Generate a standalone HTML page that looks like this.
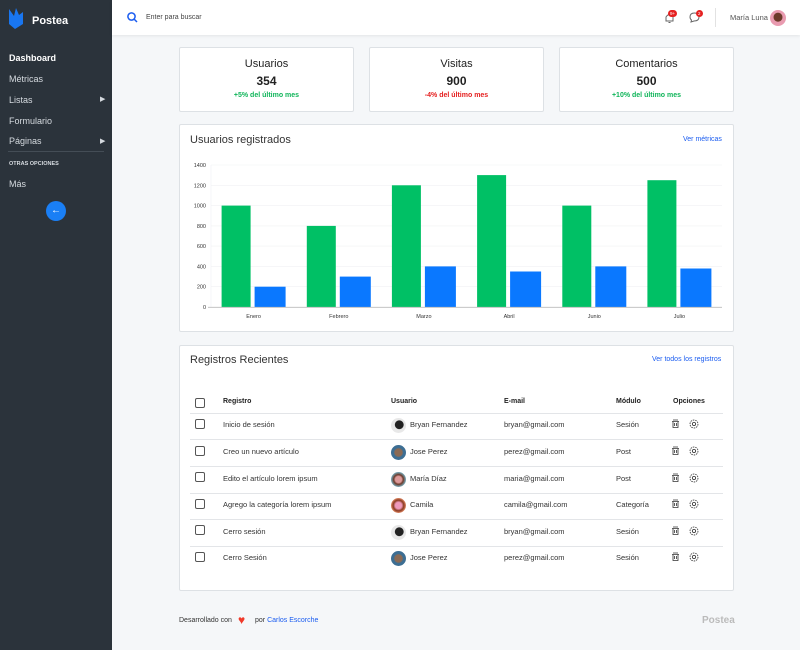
<!DOCTYPE html>
<html><head><meta charset="utf-8"><style>
*{box-sizing:border-box;margin:0;padding:0}
body{width:800px;height:650px;overflow:hidden;background:#f5f7f9;font-family:"Liberation Sans",Arial,sans-serif;position:relative;color:#222}
.a{position:absolute;white-space:nowrap}
#side{position:absolute;left:0;top:0;width:112px;height:650px;background:#2b333b}
#side .a{color:#d6dbe0;font-size:9px}
#head{position:absolute;left:112px;top:0;width:688px;height:35px;background:#fff;box-shadow:0 1px 3px rgba(0,0,0,.08)}
.card{position:absolute;background:#fff;border:1px solid #dde1e5;border-radius:2px}
.stat .t{position:absolute;width:100%;text-align:center}
.cb{position:absolute;width:10px;height:10px;border:1px solid #555;border-radius:2px;background:#fff}
.row{font-size:7.5px;color:#333}
.hl{position:absolute;left:190px;width:533px;height:1px;background:#e3e5e8}
.av{position:absolute;width:15px;height:15px;border-radius:50%}
</style></head><body>
<div id="side">
<svg class="a" style="left:8px;top:7px" width="16" height="22" viewBox="0 0 16 22"><path d="M1 2 L6 9 L8 1 L11 8 L15 5 L15 17 L7 22 L1 17Z" fill="#1976f0"/></svg>
<div class="a" style="left:32px;top:15px;color:#fff;font-weight:bold;font-size:11px">Postea</div>
<div class="a" style="left:9px;top:53px;color:#fff;font-weight:bold">Dashboard</div>
<div class="a" style="left:9px;top:74px">Métricas</div>
<div class="a" style="left:9px;top:95px">Listas</div><div class="a" style="left:100px;top:95px;font-size:7px">▶</div>
<div class="a" style="left:9px;top:116px">Formulario</div>
<div class="a" style="left:9px;top:136px">Páginas</div><div class="a" style="left:100px;top:137px;font-size:7px">▶</div>
<div class="a" style="left:8px;top:151px;width:96px;height:1px;background:#444d56"></div>
<div class="a" style="left:9px;top:161px;font-size:5.5px!important;font-weight:bold">OTRAS OPCIONES</div>
<div class="a" style="left:9px;top:179px">Más</div>
<div class="a" style="left:46px;top:201px;width:20px;height:20px;border-radius:50%;background:#1a7ff5;color:#fff!important;text-align:center;line-height:20px;font-size:10px">←</div>
</div>
<div id="head">
<svg class="a" style="left:15px;top:12px" width="11" height="11"><circle cx="4.5" cy="4.5" r="3.6" fill="none" stroke="#1a5cf0" stroke-width="1.5"/><line x1="7" y1="7" x2="10" y2="10" stroke="#1a5cf0" stroke-width="1.5"/></svg>
<div class="a" style="left:34px;top:14px;font-size:7px;color:#444">Enter para buscar</div>
<svg class="a" style="left:552px;top:12px" width="11" height="12"><path d="M2 9 L2 5 Q5.5 0 9 5 L9 9Z M4.5 10.5 h2" fill="none" stroke="#666" stroke-width="1"/></svg>
<div class="a" style="left:556px;top:10px;background:#e52020;color:#fff;font-size:4.5px;border-radius:4px;padding:1px 2px">9+</div>
<svg class="a" style="left:577px;top:12px" width="11" height="11"><path d="M1 5 Q1 1 5.5 1 Q10 1 10 5 Q10 9 5 9 L2 10 L2.5 8 Q1 7 1 5Z" fill="none" stroke="#666" stroke-width="1"/></svg>
<div class="a" style="left:584px;top:10px;background:#e52020;color:#fff;font-size:4.5px;border-radius:4px;padding:1px 2px">2</div>
<div class="a" style="left:603px;top:8px;width:1px;height:19px;background:#e2e2e2"></div>
<div class="a" style="left:618px;top:13px;font-size:7.5px;color:#555">María Luna</div>
<div class="av" style="left:658px;top:10px;width:16px;height:16px;background:radial-gradient(circle at 50% 45%,#6b3a2a 35%,#e99bb0 40%)"></div>
</div>

<div class="card stat" style="left:179px;top:47px;width:175px;height:65px">
<div class="t" style="top:10px;font-size:11px">Usuarios</div><div class="t" style="top:26px;font-size:12px;font-weight:bold">354</div><div class="t" style="top:44px;font-size:7px;color:#10b55a;font-weight:bold">+5% del último mes</div></div>
<div class="card stat" style="left:369px;top:47px;width:175px;height:65px">
<div class="t" style="top:10px;font-size:11px">Visitas</div><div class="t" style="top:26px;font-size:12px;font-weight:bold">900</div><div class="t" style="top:44px;font-size:7px;color:#e52020;font-weight:bold">-4% del último mes</div></div>
<div class="card stat" style="left:559px;top:47px;width:175px;height:65px">
<div class="t" style="top:10px;font-size:11px">Comentarios</div><div class="t" style="top:26px;font-size:12px;font-weight:bold">500</div><div class="t" style="top:44px;font-size:7px;color:#10b55a;font-weight:bold">+10% del último mes</div></div>

<div class="card" style="left:179px;top:124px;width:555px;height:208px"></div>
<div class="a" style="left:190px;top:134px;font-size:11px;color:#333">Usuarios registrados</div>
<div class="a" style="left:683px;top:136px;font-size:7px;color:#1a5cf0">Ver métricas</div>
<svg class="a" style="left:0;top:0" width="800" height="340" font-family="Liberation Sans, sans-serif" font-size="5.5" fill="#333">
<g stroke="#f0f1f3" stroke-width="0.6"><line x1="211" x2="722" y1="165" y2="165"/><line x1="211" x2="722" y1="185.3" y2="185.3"/><line x1="211" x2="722" y1="205.6" y2="205.6"/><line x1="211" x2="722" y1="225.9" y2="225.9"/><line x1="211" x2="722" y1="246.1" y2="246.1"/><line x1="211" x2="722" y1="266.4" y2="266.4"/><line x1="211" x2="722" y1="286.7" y2="286.7"/><line x1="211" x2="211" y1="165" y2="307"/></g>
<g text-anchor="end"><text x="206" y="167">1400</text><text x="206" y="187.3">1200</text><text x="206" y="207.6">1000</text><text x="206" y="227.9">800</text><text x="206" y="248.1">600</text><text x="206" y="268.4">400</text><text x="206" y="288.7">200</text><text x="206" y="309">0</text></g>
<g fill="#00c065"><rect x="221.6" y="205.6" width="29" height="101.4"/><rect x="306.8" y="225.9" width="29" height="81.1"/><rect x="391.9" y="185.3" width="29" height="121.7"/><rect x="477.1" y="175.1" width="29" height="131.9"/><rect x="562.3" y="205.6" width="29" height="101.4"/><rect x="647.4" y="180.2" width="29" height="126.8"/></g>
<g fill="#0a78ff"><rect x="254.6" y="286.7" width="31" height="20.3"/><rect x="339.8" y="276.6" width="31" height="30.4"/><rect x="424.9" y="266.4" width="31" height="40.6"/><rect x="510.1" y="271.5" width="31" height="35.5"/><rect x="595.3" y="266.4" width="31" height="40.6"/><rect x="680.4" y="268.5" width="31" height="38.5"/></g>
<line x1="208" x2="722" y1="307.3" y2="307.3" stroke="#bbb" stroke-width="0.8"/>
<g text-anchor="middle"><text x="253.6" y="318">Enero</text><text x="338.8" y="318">Febrero</text><text x="423.9" y="318">Marzo</text><text x="509.1" y="318">Abril</text><text x="594.3" y="318">Junio</text><text x="679.4" y="318">Julio</text></g>
</svg>

<div class="card" style="left:179px;top:345px;width:555px;height:246px"></div>
<div class="a" style="left:190px;top:354px;font-size:11px;color:#333">Registros Recientes</div>
<div class="a" style="left:652px;top:356px;font-size:7px;color:#1a5cf0">Ver todos los registros</div>
<div class="cb" style="left:195px;top:398px"></div>
<div class="a" style="left:223px;top:398px;font-size:7px;font-weight:bold">Registro</div>
<div class="a" style="left:391px;top:398px;font-size:7px;font-weight:bold">Usuario</div>
<div class="a" style="left:504px;top:398px;font-size:7px;font-weight:bold">E-mail</div>
<div class="a" style="left:616px;top:398px;font-size:7px;font-weight:bold">Módulo</div>
<div class="a" style="left:673px;top:398px;font-size:7px;font-weight:bold">Opciones</div>
<div class="hl" style="top:413px"></div>
<div class="hl" style="top:439px"></div>
<div class="hl" style="top:466px"></div>
<div class="hl" style="top:493px"></div>
<div class="hl" style="top:519px"></div>
<div class="hl" style="top:546px"></div>

<div class="row">
<div class="cb" style="left:195px;top:419px"></div><div class="a" style="left:223px;top:420px">Inicio de sesión</div><div class="av" style="left:391px;top:418px;background:radial-gradient(circle at 55% 45%,#222 35%,#e8e8e8 40%)"></div><div class="a" style="left:410px;top:420px">Bryan Fernandez</div><div class="a" style="left:504px;top:420px">bryan@gmail.com</div><div class="a" style="left:616px;top:420px">Sesión</div>
<div class="cb" style="left:195px;top:446px"></div><div class="a" style="left:223px;top:447px">Creo un nuevo artículo</div><div class="av" style="left:391px;top:445px;background:radial-gradient(circle,#8a6a55 35%,#3d6e93 45%)"></div><div class="a" style="left:410px;top:447px">Jose Perez</div><div class="a" style="left:504px;top:447px">perez@gmail.com</div><div class="a" style="left:616px;top:447px">Post</div>
<div class="cb" style="left:195px;top:472px"></div><div class="a" style="left:223px;top:474px">Edito el artículo lorem ipsum</div><div class="av" style="left:391px;top:472px;background:radial-gradient(circle,#d99 30%,#6b3a2a 45%,#7ab 70%)"></div><div class="a" style="left:410px;top:474px">María Díaz</div><div class="a" style="left:504px;top:474px">maria@gmail.com</div><div class="a" style="left:616px;top:474px">Post</div>
<div class="cb" style="left:195px;top:499px"></div><div class="a" style="left:223px;top:500px">Agrego la categoría lorem ipsum</div><div class="av" style="left:391px;top:498px;background:radial-gradient(circle,#e9b 30%,#8a3a20 50%,#d86 70%)"></div><div class="a" style="left:410px;top:500px">Camila</div><div class="a" style="left:504px;top:500px">camila@gmail.com</div><div class="a" style="left:616px;top:500px">Categoría</div>
<div class="cb" style="left:195px;top:525px"></div><div class="a" style="left:223px;top:527px">Cerro sesión</div><div class="av" style="left:391px;top:525px;background:radial-gradient(circle at 55% 45%,#222 35%,#e8e8e8 40%)"></div><div class="a" style="left:410px;top:527px">Bryan Fernandez</div><div class="a" style="left:504px;top:527px">bryan@gmail.com</div><div class="a" style="left:616px;top:527px">Sesión</div>
<div class="cb" style="left:195px;top:552px"></div><div class="a" style="left:223px;top:553px">Cerro Sesión</div><div class="av" style="left:391px;top:551px;background:radial-gradient(circle,#8a6a55 35%,#3d6e93 45%)"></div><div class="a" style="left:410px;top:553px">Jose Perez</div><div class="a" style="left:504px;top:553px">perez@gmail.com</div><div class="a" style="left:616px;top:553px">Sesión</div>
</div>
<svg class="a" style="left:670px;top:415px" width="40" height="150">
<defs><g id="ic"><path d="M3 2h5M2 3.5h7M3 3.5v6h5v-6M4.5 5v3M6.5 5v3" fill="none" stroke="#333" stroke-width="0.8"/><circle cx="24" cy="6" r="4" fill="none" stroke="#333" stroke-width="0.8" stroke-dasharray="1.6 0.9"/><circle cx="24" cy="6" r="1.6" fill="none" stroke="#333" stroke-width="0.8"/></g></defs>
<use href="#ic" y="3"/><use href="#ic" y="30"/><use href="#ic" y="57"/><use href="#ic" y="83"/><use href="#ic" y="110"/><use href="#ic" y="136"/>
</svg>

<div class="a" style="left:179px;top:617px;font-size:7px;color:#333">Desarrollado con</div>
<div class="a" style="left:238px;top:613px;font-size:12px;color:#f03a2a">♥</div>
<div class="a" style="left:255px;top:617px;font-size:7px;color:#333">por <span style="color:#1a5cf0">Carlos Escorche</span></div>
<div class="a" style="left:702px;top:615px;font-size:10px;color:#bbb;font-weight:bold">Postea</div>
</body></html>
